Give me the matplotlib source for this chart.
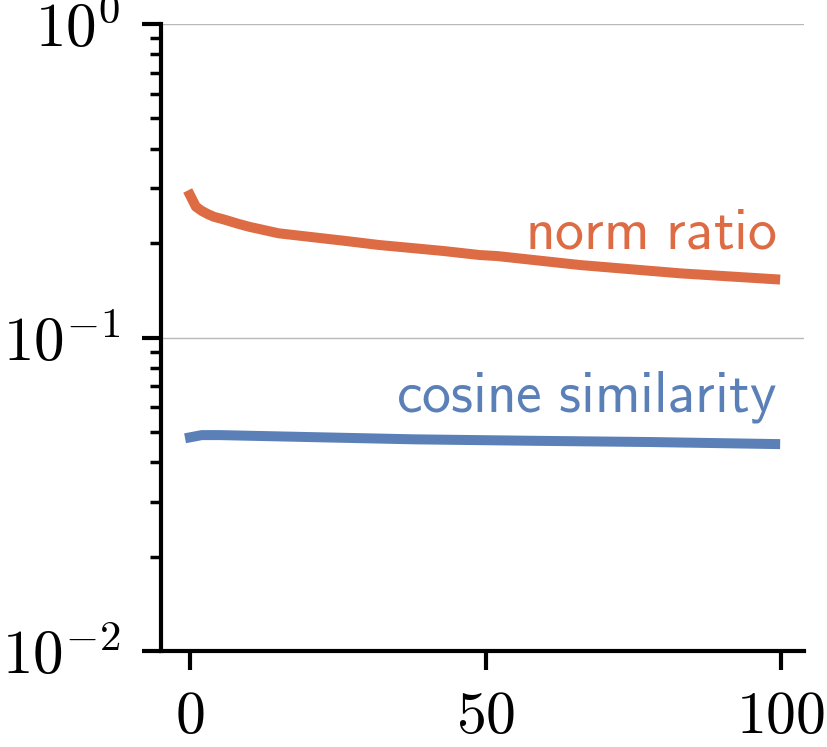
import matplotlib
matplotlib.use("Agg")
import matplotlib.pyplot as plt
import numpy as np
from matplotlib.ticker import FixedLocator, FuncFormatter, LogLocator

plt.rcParams["mathtext.fontset"] = "cm"

# values (iteration on x, log-scale y)
norm_x = [0, 1, 2, 3, 4, 6, 8, 10, 15, 21, 26, 32, 38, 43, 49, 52, 66, 83, 99]
norm_ratio = [0.285, 0.2615, 0.2535, 0.2478, 0.243, 0.2373, 0.2311, 0.2257,
              0.2151, 0.2088, 0.2037, 0.1974, 0.1927, 0.1888, 0.1834, 0.182,
              0.1704, 0.1603, 0.1535]

cos_x = [0, 2, 5, 18, 38, 58, 78, 99]
cos_sim = [0.0481, 0.0489, 0.0489, 0.0483, 0.0474, 0.0469, 0.04647, 0.04579]

x_ticks = [0, 50, 100]
y_ticks = [1e-2, 1e-1, 1e0]

c_norm = "#dd6b43"
c_cos = "#5b80b8"


def main():
    fig = plt.figure(figsize=(8.28, 7.47), dpi=100)
    ax = fig.add_axes([0.1941, 0.1281, 0.7774, 0.8398])

    ax.plot(norm_x, norm_ratio, color=c_norm, lw=7.2)
    ax.plot(cos_x, cos_sim, color=c_cos, lw=7.2)

    ax.text(99.3, 0.1927, r"$\mathsf{norm\ ratio}$", color=c_norm,
            fontsize=41.5, ha="right", va="baseline")
    ax.text(99.3, 0.0580, r"$\mathsf{cosine\ similarity}$", color=c_cos,
            fontsize=41.5, ha="right", va="baseline")

    ax.set_yscale("log")
    ax.set_ylim(1e-2, 1e0)
    ax.set_xlim(-4.95, 103.95)
    ax.xaxis.set_major_locator(FixedLocator(x_ticks))
    ax.yaxis.set_major_locator(FixedLocator(y_ticks))
    ax.yaxis.set_minor_locator(LogLocator(base=10, subs=np.arange(2, 10)))
    ax.xaxis.set_major_formatter(FuncFormatter(lambda v, p: r"$%d$" % v))
    ax.yaxis.set_major_formatter(
        FuncFormatter(lambda v, p: r"$10^{%d}$" % round(np.log10(v))))
    ax.yaxis.set_minor_formatter(FuncFormatter(lambda v, p: ""))

    for s in ["top", "right"]:
        ax.spines[s].set_visible(False)
    for s in ["left", "bottom"]:
        ax.spines[s].set_linewidth(3)

    ax.tick_params(which="major", length=14, width=3, labelsize=43, pad=12)
    ax.tick_params(axis="y", which="major", labelsize=44, pad=15)
    ax.tick_params(which="minor", length=8, width=2.5)
    ax.grid(axis="y", which="major", color="#b8b8b8", lw=1)
    ax.set_axisbelow(True)

    fig.savefig("out.png", dpi=100)


if __name__ == "__main__":
    main()
